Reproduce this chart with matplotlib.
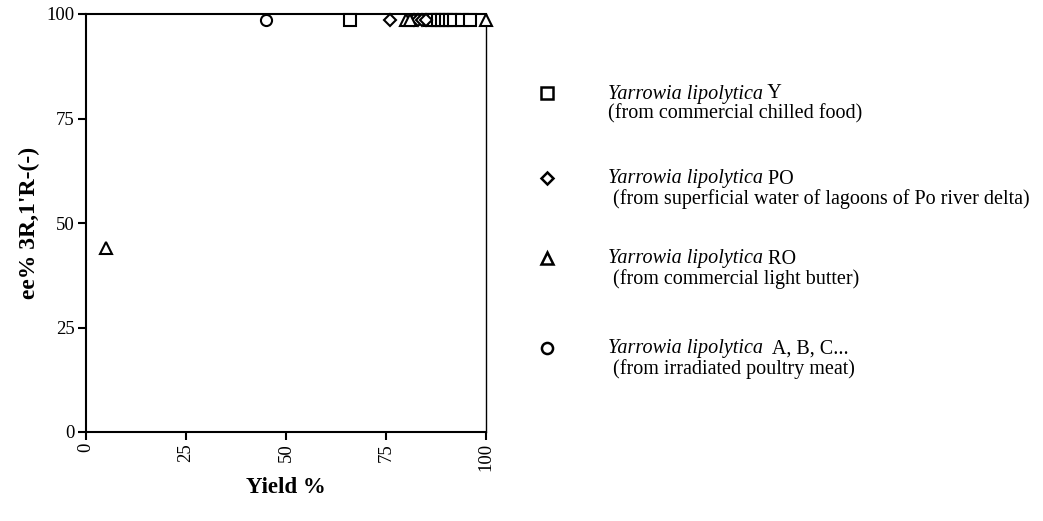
import matplotlib
matplotlib.use("Agg")
import matplotlib.pyplot as plt

plt.rcParams['font.family'] = ['Liberation Serif', 'DejaVu Serif']

# Data
y_strain_x = [66, 86, 87, 88, 89, 90, 91, 92, 94, 96]
y_strain_y = [98.5] * len(y_strain_x)
po_x = [76, 82, 83, 84, 85]
po_y = [98.5] * len(po_x)
ro_x = [5, 80, 81, 100]
ro_y = [44, 98.5, 98.5, 98.5]
abc_x = [45]
abc_y = [98.5]

x_ticks = [0, 25, 50, 75, 100]
y_ticks = [0, 25, 50, 75, 100]

legend_names = ["Yarrowia lipolytica", "Yarrowia lipolytica", "Yarrowia lipolytica", "Yarrowia lipolytica"]
legend_suffix = [" Y", " PO", " RO", "  A, B, C..."]
legend_sources = ["(from commercial chilled food)",
                  " (from superficial water of lagoons of Po river delta)",
                  " (from commercial light butter)",
                  " (from irradiated poultry meat)"]
legend_markers = ["s", "D", "^", "o"]

fig = plt.figure(figsize=(10.43, 5.21), dpi=100)
ax = fig.add_axes([86/1043, 1-432/521, 400/1043, 418/521])

mk = dict(linestyle='none', markerfacecolor='white', markeredgecolor='black',
          markeredgewidth=1.5, clip_on=False, zorder=3)
ax.plot(y_strain_x, y_strain_y, marker='s', markersize=8, **mk)
ax.plot(po_x, po_y, marker='D', markersize=6, **mk)
ax.plot(ro_x, ro_y, marker='^', markersize=8, **mk)
ax.plot(abc_x, abc_y, marker='o', markersize=8, **mk)

ax.set_xlim(0, 100)
ax.set_ylim(0, 100)
ax.set_xticks(x_ticks)
ax.set_yticks(y_ticks)
ax.set_xticklabels([str(t) for t in x_ticks], rotation=90, fontsize=13.5)
ax.set_yticklabels([str(t) for t in y_ticks], fontsize=13.5)
ax.tick_params(direction='out', length=6, width=1.5, color='black', pad=2)
for s in ['left', 'bottom', 'top']:
    ax.spines[s].set_linewidth(1.5)
ax.spines['right'].set_linewidth(1.0)

ax.set_xlabel("Yield %", fontsize=16.5, fontweight='bold', labelpad=4)
ax.set_ylabel("ee% 3R,1'R-(-)", fontsize=17, fontweight='bold', labelpad=5)

# Legend as free text
mark_x = 547
text_x = 608
rows_y = [93, 178, 258, 348]
fs = 14.5
for m, name, suf, src, ry in zip(legend_markers, legend_names, legend_suffix, legend_sources, rows_y):
    ms = 6 if m == 'D' else 8
    fig.lines.append(matplotlib.lines.Line2D([mark_x/1043], [1-ry/521], marker=m, markersize=ms,
                     markerfacecolor='white', markeredgecolor='black', markeredgewidth=1.8,
                     linestyle='none', transform=fig.transFigure))
    t = fig.text(text_x/1043, 1-(ry+1)/521, name, style='italic', fontsize=fs, va='center', ha='left')
    fig.canvas.draw()
    bb = t.get_window_extent()
    fig.text(bb.x1/1043, 1-(ry+1)/521, suf, fontsize=fs, va='center', ha='left')
    fig.text(text_x/1043, 1-(ry+21)/521, src, fontsize=fs, va='center', ha='left')

fig.savefig("out.png", dpi=100)
